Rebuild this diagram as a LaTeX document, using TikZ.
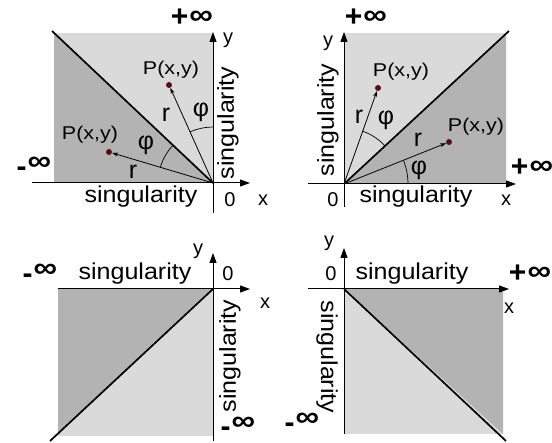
\documentclass[tikz,border=0pt]{standalone}
\usepackage{fontspec}
\setmainfont{Liberation Sans}
\usetikzlibrary{arrows.meta,angles}
\definecolor{lightg}{RGB}{218,218,218}
\definecolor{darkg}{RGB}{179,179,179}
\definecolor{dotc}{RGB}{90,15,15}
\newcommand{\infsym}{\raisebox{2pt}{\scalebox{1.1}[0.95]{∞}}}
\newcommand{\pinf}{{\fontsize{30}{30}\selectfont\bfseries +\kern1pt\infsym}}
\newcommand{\minf}{{\fontsize{30}{30}\selectfont\bfseries \raisebox{-4pt}{-}\kern1pt\infsym}}
\newcommand{\sing}{\scalebox{1.09}[1]{singularity}}
\newcommand{\pxy}{\scalebox{1.16}[1]{P(x,y)}}
\begin{document}
\begin{tikzpicture}[x=1pt,y=1pt,
 axis/.style={line width=1pt,-{Triangle[length=10pt,width=7pt]}},
 diag/.style={line width=1.7pt},
 vec/.style={line width=0.8pt,-{Stealth[length=6pt,width=4pt]}},
 arcst/.style={draw,line width=0.7pt},
 dot/.style={circle,fill=dotc,inner sep=0,minimum size=6pt},
 lbl/.style={font=\fontsize{20}{20}\selectfont,inner sep=0},
 singl/.style={font=\fontsize{23}{23}\selectfont,inner sep=0},
 pl/.style={font=\fontsize{18.5}{18.5}\selectfont,inner sep=0},
 rl/.style={font=\fontsize{25}{25}\selectfont,inner sep=0},
 phil/.style={font=\fontsize{25}{25}\selectfont,inner sep=0},
 inf/.style={inner sep=0}]
\useasboundingbox (0,-443) rectangle (552,0);

% ---------- panel 1 (top left)
\coordinate (O1) at (213,-183);
\fill[lightg] (54,-33) rectangle (213,-183);
\fill[darkg] (54,-33) -- (213,-183) -- (54,-183) -- cycle;
\coordinate (D1) at (52,-31);
\draw[diag] (D1) -- (O1);
\coordinate (X1s) at (32,-183); \coordinate (X1e) at (250,-183);
\coordinate (Y1s) at (213,-213); \coordinate (Y1e) at (213,-32);
\draw[axis] (X1s) -- (X1e);
\draw[axis] (Y1s) -- (Y1e);
\node[dot] (P1a) at (169,-85) {};
\node[dot] (P1b) at (109,-152) {};
\draw[vec] (O1) -- (P1a);
\draw[vec] (O1) -- (P1b);
\pic[arcst, angle radius=56pt] {angle=Y1e--O1--P1a};
\pic[arcst, angle radius=55pt] {angle=D1--O1--P1b};
\node[inf] (i1a) at (192,-18) {\pinf};
\node[inf] (i1b) at (34,-167) {\minf};
\node[lbl] (y1) at (228,-40) {y};
\node[lbl] (x1) at (263,-200) {x};
\node[lbl] (z1) at (230,-200) {0};
\node[singl] (s1h) at (141,-197) {\sing};
\node[singl,rotate=90] (s1v) at (228,-123) {\sing};
\node[pl] (t1a) at (171,-70) {\pxy};
\node[pl] (t1b) at (90,-135) {\pxy};
\node[rl] (r1a) at (166,-115) {r};
\node[rl] (r1b) at (133,-172) {r};
\node[phil] (f1a) at (201,-112) {φ};
\node[phil] (f1b) at (146,-145) {φ};

% ---------- panel 2 (top right)
\coordinate (O2) at (344,-184);
\fill[lightg] (344,-33) rectangle (506,-184);
\fill[darkg] (344,-184) -- (506,-33) -- (506,-184) -- cycle;
\coordinate (D2) at (509,-31);
\draw[diag] (O2) -- (D2);
\coordinate (X2s) at (308,-184); \coordinate (X2e) at (516,-184);
\coordinate (Y2s) at (344,-207); \coordinate (Y2e) at (344,-32);
\draw[axis] (X2s) -- (X2e);
\draw[axis] (Y2s) -- (Y2e);
\node[dot] (P2a) at (378,-88) {};
\node[dot] (P2b) at (449,-142) {};
\draw[vec] (O2) -- (P2a);
\draw[vec] (O2) -- (P2b);
\pic[arcst, angle radius=56pt] {angle=D2--O2--P2a};
\pic[arcst, angle radius=64pt] {angle=X2e--O2--P2b};
\node[inf] (i2a) at (366,-18) {\pinf};
\node[inf] (i2b) at (532,-168) {\pinf};
\node[lbl] (y2) at (328,-43) {y};
\node[lbl] (x2) at (506,-200) {x};
\node[lbl] (z2) at (333,-200) {0};
\node[singl] (s2h) at (416,-197) {\sing};
\node[singl,rotate=90] (s2v) at (328,-120) {\sing};
\node[pl] (t2a) at (401,-72) {\pxy};
\node[pl] (t2b) at (476,-127) {\pxy};
\node[rl] (r2a) at (359,-117) {r};
\node[rl] (r2b) at (418,-140) {r};
\node[phil] (f2a) at (386,-120) {φ};
\node[phil] (f2b) at (419,-170) {φ};

% ---------- panel 3 (bottom left)
\coordinate (O3) at (213,-289);
\fill[lightg] (58,-289) rectangle (213,-436);
\fill[darkg] (58,-289) -- (213,-289) -- (58,-434) -- cycle;
\coordinate (D3) at (50,-441);
\draw[diag] (O3) -- (D3);
\coordinate (X3s) at (58,-289); \coordinate (X3e) at (250,-289);
\coordinate (Y3s) at (213,-441); \coordinate (Y3e) at (213,-253);
\draw[axis] (X3s) -- (X3e);
\draw[axis] (Y3s) -- (Y3e);
\node[inf] (i3a) at (40,-274) {\minf};
\node[inf] (i3b) at (238,-427) {\minf};
\node[lbl] (y3) at (198,-251) {y};
\node[lbl] (x3) at (265,-303) {x};
\node[lbl] (z3) at (228,-274) {0};
\node[singl] (s3h) at (135,-274) {\sing};
\node[singl,rotate=90] (s3v) at (230,-356) {\sing};

% ---------- panel 4 (bottom right)
\coordinate (O4) at (344,-289);
\fill[lightg] (344,-289) rectangle (503,-434);
\fill[darkg] (344,-289) -- (503,-289) -- (503,-434) -- cycle;
\coordinate (D4) at (506,-441);
\draw[diag] (O4) -- (D4);
\coordinate (X4s) at (308,-289); \coordinate (X4e) at (509,-289);
\coordinate (Y4s) at (344,-434); \coordinate (Y4e) at (344,-248);
\draw[axis] (X4s) -- (X4e);
\draw[axis] (Y4s) -- (Y4e);
\node[inf] (i4a) at (530,-274) {\pinf};
\node[inf] (i4b) at (302,-423) {\minf};
\node[lbl] (y4) at (329,-243) {y};
\node[lbl] (x4) at (509,-308) {x};
\node[lbl] (z4) at (331,-274) {0};
\node[singl] (s4h) at (412,-274) {\sing};
\node[singl,rotate=-90] (s4v) at (327,-357) {\sing};
\end{tikzpicture}
\end{document}
